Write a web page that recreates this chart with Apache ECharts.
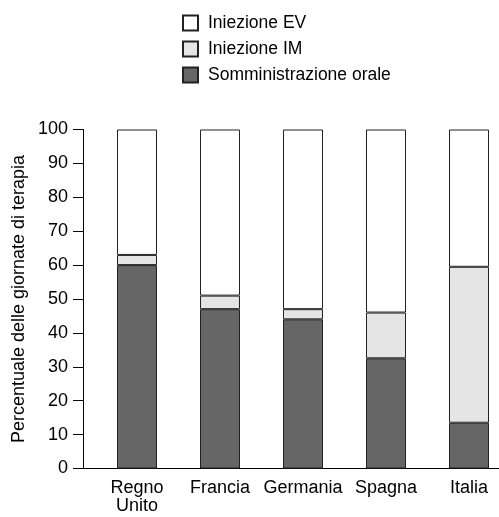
<!DOCTYPE html>
<html>
<head>
<meta charset="utf-8">
<script src="https://cdn.jsdelivr.net/npm/echarts@6/dist/echarts.min.js"></script>
<style>html,body{margin:0;padding:0;background:#fff}#c{width:499px;height:517px}</style>
</head>
<body>
<div id="c"></div>
<script>
var categories = ['Regno\nUnito', 'Francia', 'Germania', 'Spagna', 'Italia'];
var orale = [60, 47, 44, 32.5, 13.5];
var im = [3, 4, 3, 13.5, 46];
var ev = [37, 49, 53, 54, 40.5];
var yTicks = [0, 10, 20, 30, 40, 50, 60, 70, 80, 90, 100];

var font = 'Liberation Sans, Arial, sans-serif';
var fs = 18;
var chart = echarts.init(document.getElementById('c'), null, { renderer: 'canvas' });
function bar(name, data, color) {
  return {
    type: 'bar', name: name, stack: 't', barWidth: 40, data: data,
    xAxisIndex: 0, yAxisIndex: 0,
    itemStyle: { color: color, borderColor: '#222', borderWidth: 1 }
  };
}
chart.setOption({
  animation: false,
  textStyle: { fontFamily: font },
  legend: {
    orient: 'vertical', left: 177, top: 9,
    icon: 'rect',
    itemWidth: 15, itemHeight: 15, itemGap: 8,
    data: ['Iniezione EV', 'Iniezione IM', 'Somministrazione orale'],
    textStyle: { fontSize: 17.5, color: '#000', fontFamily: font, padding: [0, 0, 0, 5] }
  },
  grid: [
    { left: 95.5, width: 415, top: 129.5, bottom: 48.5, containLabel: false, outerBoundsMode: 'none' },
    { left: 83, right: 0, top: 129.5, bottom: 48.5, containLabel: false, outerBoundsMode: 'none' }
  ],
  xAxis: [
    {
      type: 'category', gridIndex: 0, data: categories,
      axisLine: { show: false }, axisTick: { show: false }, splitLine: { show: false },
      axisLabel: { fontSize: fs, color: '#000', margin: 11, lineHeight: 18, fontFamily: font, interval: 0 }
    },
    {
      type: 'value', gridIndex: 1, min: 0, max: 1,
      axisLine: { show: true, onZero: false, lineStyle: { color: '#000', width: 1 } },
      axisTick: { show: false }, axisLabel: { show: false }, splitLine: { show: false }
    }
  ],
  yAxis: [
    {
      type: 'value', gridIndex: 0, min: yTicks[0], max: yTicks[yTicks.length - 1], interval: 10,
      show: false, splitLine: { show: false }
    },
    {
      type: 'value', gridIndex: 1, min: yTicks[0], max: yTicks[yTicks.length - 1], interval: 10,
      splitLine: { show: false },
      axisLine: { show: true, lineStyle: { color: '#000', width: 1 } },
      axisTick: { show: true, length: 10, lineStyle: { color: '#000' } },
      axisLabel: { fontSize: fs, color: '#000', margin: 15, fontFamily: font },
      name: 'Percentuale delle giornate di terapia',
      nameLocation: 'middle', nameGap: 55, nameMoveOverlap: false,
      nameTextStyle: { fontSize: fs, color: '#000', fontFamily: font }
    }
  ],
  series: [
    bar('Somministrazione orale', orale, '#666666'),
    bar('Iniezione IM', im, '#e5e5e5'),
    bar('Iniezione EV', ev, '#ffffff')
  ]
});
</script>
</body>
</html>
